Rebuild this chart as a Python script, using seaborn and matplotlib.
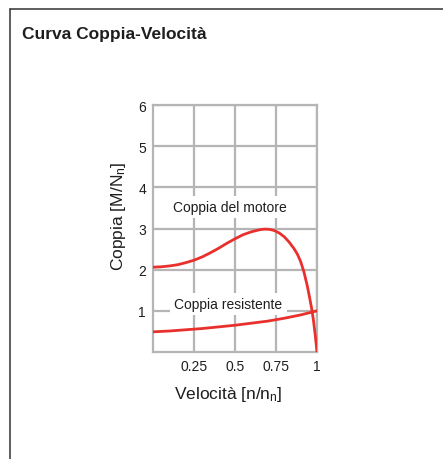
import matplotlib
matplotlib.use("Agg")
import matplotlib.pyplot as plt
import seaborn as sns
import pandas as pd
from matplotlib.lines import Line2D

# Speed ratio n/n_n and torque ratio M/N_n for the two curves
motor_speed = [0.00, 0.05, 0.10, 0.15, 0.20, 0.25, 0.30, 0.35, 0.40, 0.45,
               0.50, 0.55, 0.60, 0.65, 0.68, 0.71, 0.74, 0.77, 0.80, 0.83,
               0.86, 0.88, 0.90, 0.92, 0.94, 0.955, 0.97, 0.98, 0.99, 1.00]
motor_torque = [2.06, 2.07, 2.09, 2.12, 2.17, 2.23, 2.31, 2.41, 2.52, 2.64,
                2.75, 2.85, 2.92, 2.97, 2.985, 2.98, 2.95, 2.89, 2.80, 2.67,
                2.51, 2.38, 2.20, 1.95, 1.62, 1.32, 1.00, 0.72, 0.38, 0.00]

load_speed = [0.0, 0.1, 0.2, 0.3, 0.4, 0.5, 0.6, 0.7, 0.8, 0.9, 1.0]
load_torque = [0.49, 0.51, 0.54, 0.57, 0.61, 0.65, 0.70, 0.75, 0.82, 0.90, 1.0]

x_ticks = [0.25, 0.5, 0.75, 1]
x_tick_labels = ["0.25", "0.5", "0.75", "1"]
y_ticks = [1, 2, 3, 4, 5, 6]

title = "Curva Coppia-Velocità"
label_motor = "Coppia del motore"
label_load = "Coppia resistente"

sns.set_style("white")
plt.rcParams["font.family"] = ["Liberation Sans", "DejaVu Sans"]
plt.rcParams["mathtext.fontset"] = "custom"
plt.rcParams["mathtext.rm"] = "Liberation Sans"
plt.rcParams["mathtext.it"] = "Liberation Sans"

red = "#e8302c"
grid_col = "#b5b5b5"
text_col = "#1e1e1e"

motor = pd.DataFrame({"speed": motor_speed, "torque": motor_torque})
load = pd.DataFrame({"speed": load_speed, "torque": load_torque})

fig = plt.figure(figsize=(4.43, 4.60), dpi=100)
ax = fig.add_axes([153 / 443, 107 / 460, 164 / 443, 247 / 460])

for df in (motor, load):
    sns.lineplot(data=df, x="speed", y="torque", ax=ax, color=red,
                 linewidth=2.0, sort=False, estimator=None, zorder=3)

ax.set_xlim(0, 1)
ax.set_ylim(0, 6)
ax.set_xticks(x_ticks)
ax.set_xticklabels(x_tick_labels)
ax.set_yticks(y_ticks)
ax.tick_params(axis="both", length=0, labelsize=10, colors=text_col, pad=5)
ax.grid(True, color=grid_col, linewidth=1.6)
ax.set_axisbelow(True)
for sp in ax.spines.values():
    sp.set_visible(True)
    sp.set_color(grid_col)
    sp.set_linewidth(1.6)

ax.set_xlabel(r"Velocità [n/n$_\mathrm{n}$]", fontsize=12.5, color=text_col)
ax.set_ylabel(r"Coppia [M/N$_\mathrm{n}$]", fontsize=12.5, color=text_col)
ax.xaxis.set_label_coords(0.46, -0.128)
ax.yaxis.set_label_coords(-0.155, 0.555)

box = dict(facecolor="white", edgecolor="none", pad=3)
ax.text(0.47, 3.52, label_motor, ha="center", va="center", fontsize=10,
        color=text_col, bbox=box, zorder=2)
ax.text(0.46, 1.17, label_load, ha="center", va="center", fontsize=10,
        color=text_col, bbox=box, zorder=2)

fig.text(22 / 443, 1 - 35 / 460, title, fontsize=12.5, fontweight="bold",
         ha="left", va="center", color=text_col)

# panel frame (top and left edges)
fig.add_artist(Line2D([10 / 443, 1.0], [1 - 10 / 460, 1 - 10 / 460],
                      transform=fig.transFigure, color="#333333", linewidth=1.1))
fig.add_artist(Line2D([10 / 443, 10 / 443], [0.0, 1 - 10 / 460],
                      transform=fig.transFigure, color="#333333", linewidth=1.1))

fig.savefig("out.png", dpi=100)
